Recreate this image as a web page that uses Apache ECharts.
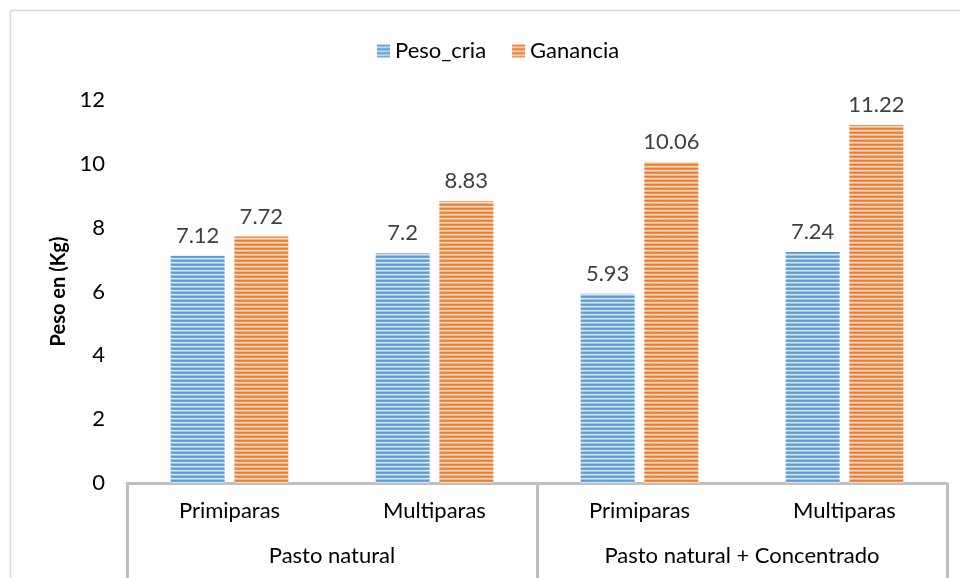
<!DOCTYPE html>
<html>
<head>
<meta charset="utf-8">
<script src="https://cdn.jsdelivr.net/npm/echarts@6/dist/echarts.min.js"></script>
<style>html,body{margin:0;padding:0;background:#fff;}#chart{width:960px;height:578px;}</style>
</head>
<body>
<div id="chart"></div>
<script>
const categories = ['Primiparas', 'Multiparas', 'Primiparas', 'Multiparas'];
const groups = ['Pasto natural', 'Pasto natural + Concentrado'];
const pesoCria = [7.12, 7.2, 5.93, 7.24];
const ganancia = [7.72, 8.83, 10.06, 11.22];
const seriesNames = ['Peso_cria', 'Ganancia'];

function stripes(colors) {
  const c = document.createElement('canvas');
  c.width = 4; c.height = colors.length;
  const ctx = c.getContext('2d');
  colors.forEach((col, i) => { ctx.fillStyle = col; ctx.fillRect(0, i, 4, 1); });
  return { image: c, repeat: 'repeat' };
}
const bluePat = stripes(['#5B9BD5', '#6FA7DA', '#D6E5F4', '#9DC3E6']);
const orangePat = stripes(['#ED7D31', '#F08C4A', '#FADBC6', '#F4B183']);

const FONT = 'Lato';
const chart = echarts.init(document.getElementById('chart'));
chart.setOption({
  animation: false,
  textStyle: { fontFamily: FONT },
  graphic: [{
    type: 'rect', shape: { x: 10.5, y: 10.5, width: 1000, height: 1000 },
    style: { fill: 'none', stroke: '#D9D9D9', lineWidth: 1.5 }, silent: true
  }],
  legend: {
    top: 35, left: 372, itemWidth: 13, itemHeight: 13, itemGap: 26,
    icon: 'rect',
    textStyle: { fontSize: 22, color: '#000', fontFamily: FONT },
    data: seriesNames
  },
  grid: { left: 127, right: 13, top: 100, bottom: 95 },
  xAxis: [{
    type: 'category', data: categories, position: 'bottom',
    axisLine: { lineStyle: { color: '#BFBFBF', width: 3 } },
    axisTick: { show: false },
    axisLabel: { fontSize: 22, color: '#000', margin: 17, fontFamily: FONT, interval: 0 }
  }, {
    type: 'category', data: groups, position: 'bottom',
    axisLine: { show: false },
    axisTick: { show: true, length: 100, interval: 0, lineStyle: { color: '#BFBFBF', width: 3 } },
    axisLabel: { fontSize: 22, color: '#000', margin: 62, fontFamily: FONT, interval: 0 }
  }],
  yAxis: {
    type: 'value', min: 0, max: 12, interval: 2,
    name: 'Peso en (Kg)', nameLocation: 'middle', nameGap: 56,
    nameTextStyle: { fontSize: 20, fontWeight: 'bold', color: '#000', fontFamily: FONT },
    axisLine: { show: false }, axisTick: { show: false },
    splitLine: { show: false },
    axisLabel: { fontSize: 22, color: '#000', margin: 22, fontFamily: FONT }
  },
  series: [{
    name: seriesNames[0], type: 'bar', data: pesoCria, barWidth: 54, barGap: '18%',
    itemStyle: { color: bluePat },
    label: { show: true, position: 'top', distance: 9, fontSize: 22, color: '#404040', fontFamily: FONT }
  }, {
    name: seriesNames[1], type: 'bar', data: ganancia, barWidth: 54,
    itemStyle: { color: orangePat },
    label: { show: true, position: 'top', distance: 9, fontSize: 22, color: '#404040', fontFamily: FONT }
  }]
});
</script>
</body>
</html>
